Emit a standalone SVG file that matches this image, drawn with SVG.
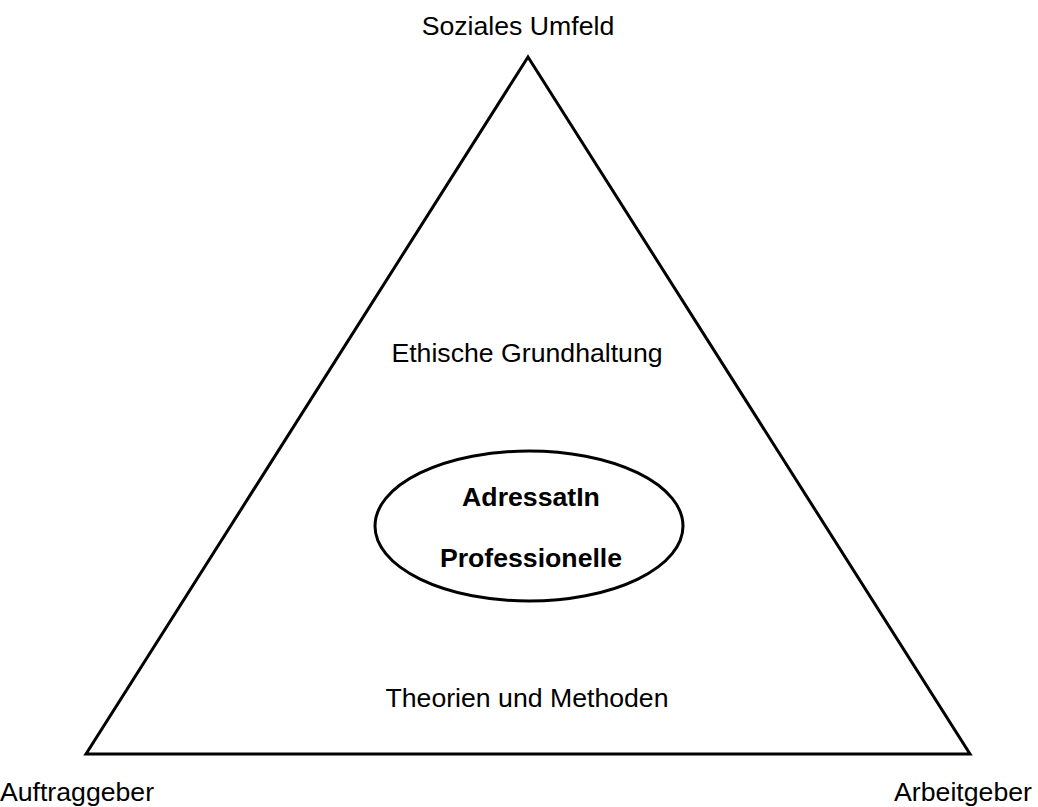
<svg xmlns="http://www.w3.org/2000/svg" width="1038" height="807" viewBox="0 0 1038 807">
<style>
.t{font-family:"Liberation Sans",Arial,sans-serif;font-size:26.67px;fill:#000;text-anchor:middle}
.b{font-family:"Liberation Sans",Arial,sans-serif;font-size:26.67px;font-weight:bold;fill:#000;text-anchor:middle}
.s{fill:none;stroke:#000;stroke-width:3}
</style>
<rect width="1038" height="807" fill="#fff"/>
<g id="triangle"><polygon class="s" points="528,57 86,754 970,754" stroke-linejoin="miter"/></g>
<g id="ellipse"><ellipse class="s" cx="529" cy="526" rx="154" ry="75"/>
<text class="b" x="531" y="506">AdressatIn</text>
<text class="b" x="531" y="567">Professionelle</text></g>
<g id="top"><text class="t" x="518" y="35">Soziales Umfeld</text></g>
<g id="ethik"><text class="t" x="527" y="362">Ethische Grundhaltung</text></g>
<g id="theorie"><text class="t" x="527" y="707">Theorien und Methoden</text></g>
<g id="left"><text class="t" x="77" y="801">Auftraggeber</text></g>
<g id="right"><text class="t" x="963" y="801">Arbeitgeber</text></g>
</svg>
